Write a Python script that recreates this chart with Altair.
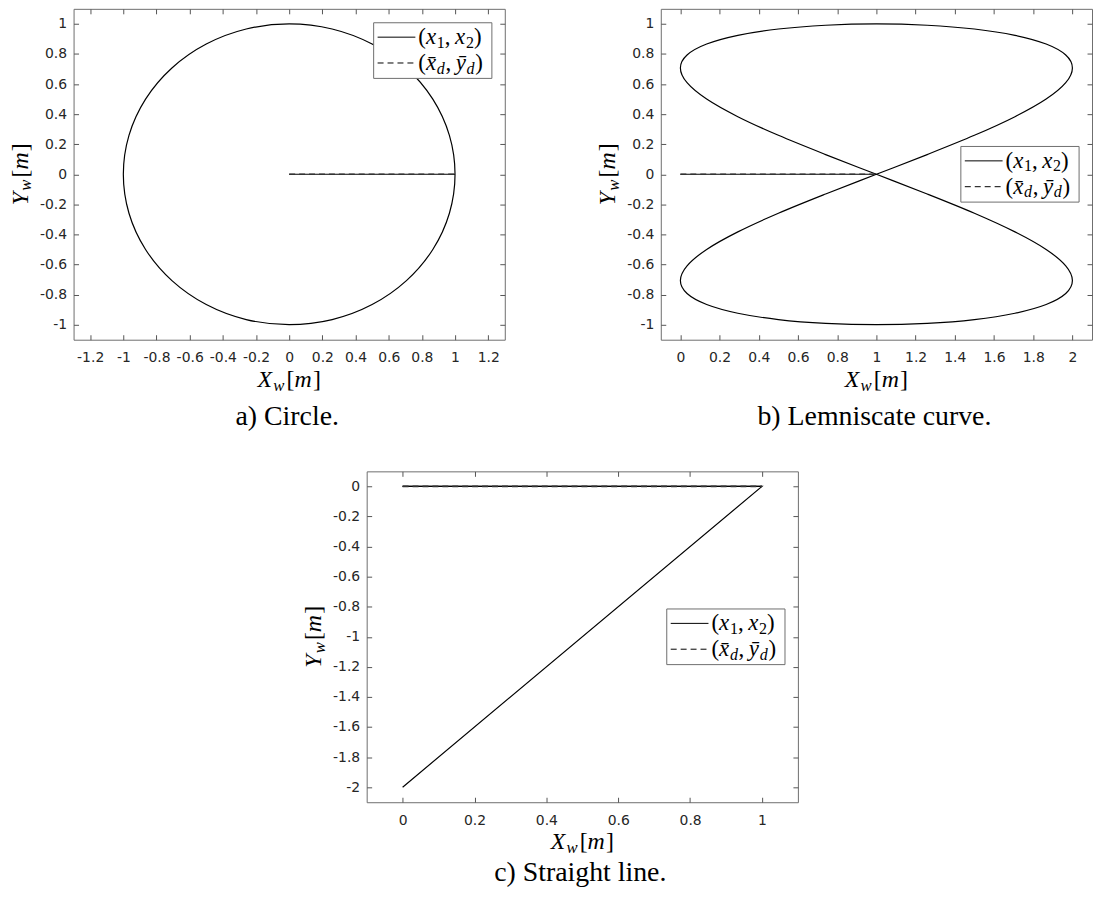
import altair as alt
import pandas as pd

# ---------------- data ----------------
circle_x = [1, 0.966, 0.866, 0.707, 0.5, 0.259, 0, -0.259, -0.5, -0.707, -0.866, -0.966,
            -1, -0.966, -0.866, -0.707, -0.5, -0.259, 0, 0.259, 0.5, 0.707, 0.866, 0.966]
circle_y = [0, 0.259, 0.5, 0.707, 0.866, 0.966, 1, 0.966, 0.866, 0.707, 0.5, 0.259,
            0, -0.259, -0.5, -0.707, -0.866, -0.966, -1, -0.966, -0.866, -0.707, -0.5, -0.259]

lem_x = [1, 1.259, 1.5, 1.707, 1.866, 1.966, 2, 1.966, 1.866, 1.707, 1.5, 1.259,
         1, 0.741, 0.5, 0.293, 0.134, 0.034, 0, 0.034, 0.134, 0.293, 0.5, 0.741,
         1, 1.259, 1.5, 1.707, 1.866, 1.966, 2, 1.966, 1.866, 1.707, 1.5, 1.259,
         1, 0.741, 0.5, 0.293, 0.134, 0.034, 0, 0.034, 0.134, 0.293, 0.5, 0.741]
lem_y = [1, 0.991, 0.966, 0.924, 0.866, 0.793, 0.707, 0.609, 0.5, 0.383, 0.259, 0.131,
         0, -0.131, -0.259, -0.383, -0.5, -0.609, -0.707, -0.793, -0.866, -0.924, -0.966, -0.991,
         -1, -0.991, -0.966, -0.924, -0.866, -0.793, -0.707, -0.609, -0.5, -0.383, -0.259, -0.131,
         0, 0.131, 0.259, 0.383, 0.5, 0.609, 0.707, 0.793, 0.866, 0.924, 0.966, 0.991]

seg_x = [0, 1]
seg_y = [0, 0]

sline_x = [0, 1, 0]
sline_y = [0, 0, -2]

a_xticks = [-1.2, -1, -0.8, -0.6, -0.4, -0.2, 0, 0.2, 0.4, 0.6, 0.8, 1, 1.2]
ab_yticks = [-1, -0.8, -0.6, -0.4, -0.2, 0, 0.2, 0.4, 0.6, 0.8, 1]
b_xticks = [0, 0.2, 0.4, 0.6, 0.8, 1, 1.2, 1.4, 1.6, 1.8, 2]
c_xticks = [0, 0.2, 0.4, 0.6, 0.8, 1]
c_yticks = [-2, -1.8, -1.6, -1.4, -1.2, -1, -0.8, -0.6, -0.4, -0.2, 0]

captions = ["a) Circle.", "b) Lemniscate curve.", "c) Straight line."]

# ---------------- styling ----------------
W, H = 434, 333
SANS = "DejaVu Sans"
SERIF = "Liberation Serif"
INK = "#000000"
FRAME = "#6e6e6e"
LBL = "#262626"

ONE = alt.Data(values=[{"k": 0}])

WID_IT = {"X": .611, "Y": .556, "w": .667, "m": .722, "x": .444, "y": .444, "d": .5}
WID_UP = {"(": .333, ")": .333, "[": .333, "]": .333, ",": .25, " ": .25, "1": .5, "2": .5}


def text_width(s, italic, size):
    tbl = WID_IT if italic else WID_UP
    return sum(tbl.get(ch, 0) for ch in s) * size


def run_width(runs, F):
    return sum(text_width(t, it, F * sc) + k * F for t, it, sc, dy, k in runs)


def text_run(runs, x0, y0, F, vertical=False):
    out = []
    pos = 0.0
    for txt, it, sc, dy, k in runs:
        size = F * sc
        if vertical:
            x, y = x0 + dy * F, y0 - pos
        else:
            x, y = x0 + pos, y0 + dy * F
        out.append(
            alt.Chart(ONE).mark_text(
                text=txt, font=SERIF, fontSize=size,
                fontStyle="italic" if it else "normal",
                align="left", baseline="alphabetic",
                angle=270 if vertical else 0, color=INK,
            ).encode(x=alt.value(x), y=alt.value(y))
        )
        pos += text_width(txt, it, size) + k * F
    return out


def axis_title_runs(letter):
    return [(letter, True, 1, 0, 0.05), ("w", True, 0.7, 0.15, 0.09),
            ("[", False, 1, 0, 0.0), ("m", True, 1, 0, 0.05), ("]", False, 1, 0, 0)]


LEG1 = [("(", False, 1, 0, 0), ("x", True, 1, 0, 0.03), ("1", False, 0.7, 0.16, 0),
        (",", False, 1, 0, 0.2), ("x", True, 1, 0, 0.03), ("2", False, 0.7, 0.16, 0),
        (")", False, 1, 0, 0)]
LEG2 = [("(", False, 1, 0, 0), ("x\u0304", True, 1, 0, 0.03), ("d", True, 0.7, 0.16, 0.03),
        (",", False, 1, 0, 0.2), ("y\u0304", True, 1, 0, 0.03), ("d", True, 0.7, 0.16, 0.03),
        (")", False, 1, 0, 0)]


def df(xs, ys):
    return pd.DataFrame({"x": xs, "y": ys, "i": list(range(len(xs)))})


def panel(curve, interp, seg, xdom, ydom, xticks, yticks, leg_top, caption,
          title_off, cap_off):
    xs = alt.Scale(domain=xdom, nice=False, zero=False)
    ys = alt.Scale(domain=ydom, nice=False, zero=False)
    common = dict(offset=-5, tickSize=5, domain=False, grid=False, tickColor="#555555",
                  tickWidth=1, title=None)
    ax_b = alt.Axis(values=xticks, orient="bottom", labelPadding=11,
                    labelExpr="toString(datum.value)", labelFont=SANS, labelFontSize=14,
                    labelColor=LBL, labelFlush=False, labelOverlap=False, **common)
    ax_l = alt.Axis(values=yticks, orient="left", labelPadding=7,
                    labelExpr="toString(datum.value)", labelFont=SANS, labelFontSize=14,
                    labelColor=LBL, labelFlush=False, labelOverlap=False, **common)
    ax_t = alt.Axis(values=xticks, orient="top", labels=False, minExtent=0, maxExtent=0,
                    **common)
    ax_r = alt.Axis(values=yticks, orient="right", labels=False, minExtent=0, maxExtent=0,
                    **common)

    mk = dict(color=INK, strokeWidth=1.2, interpolate=interp)
    if interp.startswith("cardinal"):
        mk["tension"] = 0
    layers = [
        alt.Chart(curve).mark_line(**mk).encode(
            x=alt.X("x:Q", scale=xs, axis=ax_b), y=alt.Y("y:Q", scale=ys, axis=ax_l),
            order="i:Q"),
        alt.Chart(curve).mark_line(strokeOpacity=0).encode(
            x=alt.X("x:Q", scale=xs, axis=ax_t), y=alt.Y("y:Q", scale=ys, axis=ax_r),
            order="i:Q"),
        alt.Chart(seg).mark_line(color=INK, strokeWidth=1.2).encode(
            x=alt.X("x:Q", scale=xs, axis=None), y=alt.Y("y:Q", scale=ys, axis=None),
            order="i:Q"),
        alt.Chart(seg).mark_line(color="#333333", strokeWidth=1.6, strokeDash=[6, 4]).encode(
            x=alt.X("x:Q", scale=xs, axis=None), y=alt.Y("y:Q", scale=ys, axis=None),
            order="i:Q"),
    ]

    # axis titles X_w[m], Y_w[m]
    F = 24
    xr = axis_title_runs("X")
    layers += text_run(xr, W / 2 - run_width(xr, F) / 2, H + title_off, F)
    yr = axis_title_runs("Y")
    layers += text_run(yr, -46, H / 2 + run_width(yr, F) / 2, F, vertical=True)

    # legend
    bx, by, bw, bh = 302, leg_top, 119, 56
    layers.append(alt.Chart(ONE).mark_rect(fill="white", stroke=FRAME, strokeWidth=1).encode(
        x=alt.value(bx), x2=alt.value(bx + bw), y=alt.value(by), y2=alt.value(by + bh)))
    layers.append(alt.Chart(ONE).mark_rule(color=INK, strokeWidth=1).encode(
        x=alt.value(bx + 4), x2=alt.value(bx + 42), y=alt.value(by + 14.5)))
    layers.append(alt.Chart(ONE).mark_rule(color=INK, strokeWidth=1, strokeDash=[6, 4]).encode(
        x=alt.value(bx + 4), x2=alt.value(bx + 42), y=alt.value(by + 40.5)))
    LF = 23
    layers += text_run(LEG1, bx + 45, by + 21.5, LF)
    layers += text_run(LEG2, bx + 45, by + 47.5, LF)

    # caption
    layers.append(alt.Chart(ONE).mark_text(
        text=caption, font=SERIF, fontSize=28, align="center", baseline="alphabetic",
        color=INK).encode(x=alt.value(W / 2 - 2), y=alt.value(H + cap_off)))

    return alt.layer(*layers).resolve_axis(x="independent", y="independent").properties(
        width=W, height=H)


pa = panel(df(circle_x, circle_y), "cardinal-closed", df(seg_x, seg_y),
           [-1.3, 1.3], [-1.1, 1.1], a_xticks, ab_yticks, 14, captions[0], 48, 86)
pb = panel(df(lem_x, lem_y), "cardinal-closed", df(seg_x, seg_y),
           [-0.1, 2.1], [-1.1, 1.1], b_xticks, ab_yticks, 138.5, captions[1], 48, 86)
pc = panel(df(sline_x, sline_y), "linear", df(seg_x, seg_y),
           [-0.1, 1.1], [-2.1, 0.1], c_xticks, c_yticks, 138.5, captions[2], 47, 79.5)

spacer = alt.Chart(ONE).mark_rect(opacity=0).encode(
    x=alt.value(0), x2=alt.value(1), y=alt.value(0), y2=alt.value(1)
).properties(width=228, height=10, view=alt.ViewBackground(stroke="transparent"))

top = alt.hconcat(pa, pb, spacing=90)
bottom = alt.hconcat(spacer, pc, spacing=0)

chart = alt.vconcat(top, bottom, spacing=38.5).properties(
    padding={"top": -3, "left": 0, "right": 0, "bottom": 0}, background="white"
).configure_view(stroke=FRAME, strokeWidth=1)

chart.save("out.html", embed_options={"renderer": "svg", "actions": False})
